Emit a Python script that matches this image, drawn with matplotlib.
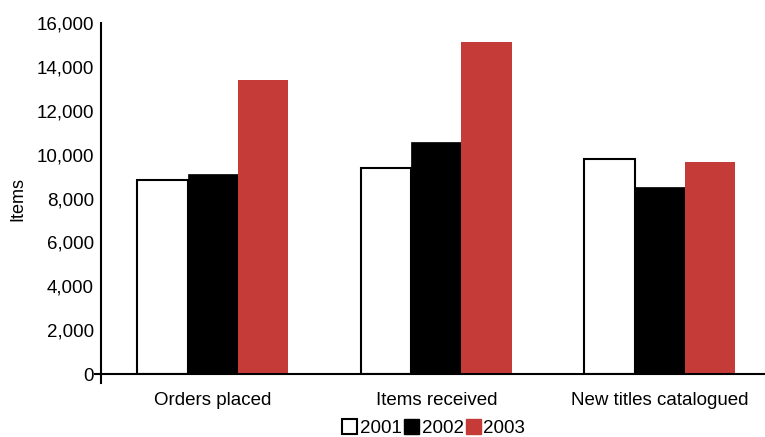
import numpy as np
import matplotlib
matplotlib.use('Agg')
from matplotlib import pyplot as plt
from matplotlib.patches import Patch

# data
categories = ['Orders placed', 'Items received', 'New titles catalogued']
years = ['2001', '2002', '2003']
v2001 = [8850, 9380, 9800]
v2002 = [9100, 10600, 8550]
v2003 = [13400, 15130, 9660]
yticks = [0, 2000, 4000, 6000, 8000, 10000, 12000, 14000, 16000]

plt.rcParams['font.family'] = ['Liberation Sans', 'DejaVu Sans']

fig = plt.figure(figsize=(7.65, 4.37), dpi=100)
ax = fig.add_axes([0.132, 0.144, 0.868, 0.803])

x = np.arange(len(categories))
w = 0.225
red = '#C43B38'
ax.bar(x - w, v2001, w, color='white', edgecolor='black', linewidth=1.5)
ax.bar(x, v2002, w, color='black', edgecolor='black', linewidth=0.5)
ax.bar(x + w, v2003, w, color=red, linewidth=0)

ax.set_xlim(-0.5, 2.47)
ax.set_ylim(0, 16000)
ax.set_yticks(yticks)
ax.set_yticklabels(['{:,}'.format(t) for t in yticks], fontsize=13.5)
ax.set_xticks(x)
ax.set_xticklabels(categories, fontsize=13.5)
ax.tick_params(axis='x', length=0, pad=13)
ax.tick_params(axis='y', length=0, pad=5)
ax.set_ylabel('Items', fontsize=13, labelpad=7)

for s in ['top', 'right']:
    ax.spines[s].set_visible(False)
ax.spines['left'].set_linewidth(1.5)
ax.spines['bottom'].set_linewidth(1.5)
ax.spines['bottom'].set_bounds(-0.525, 2.47)
ax.spines['left'].set_bounds(-400, 16000)

handles = [Patch(facecolor='white', edgecolor='black', linewidth=1.5),
           Patch(facecolor='black', edgecolor='black'),
           Patch(facecolor=red, edgecolor=red)]
fig.legend(handles, years, loc='center', bbox_to_anchor=(0.567, 0.02),
           ncol=3, frameon=False, fontsize=13.5, handlelength=0.8, handleheight=0.8,
           handletextpad=0.15, columnspacing=0.1, borderpad=0)

fig.savefig('out.png', dpi=100)
